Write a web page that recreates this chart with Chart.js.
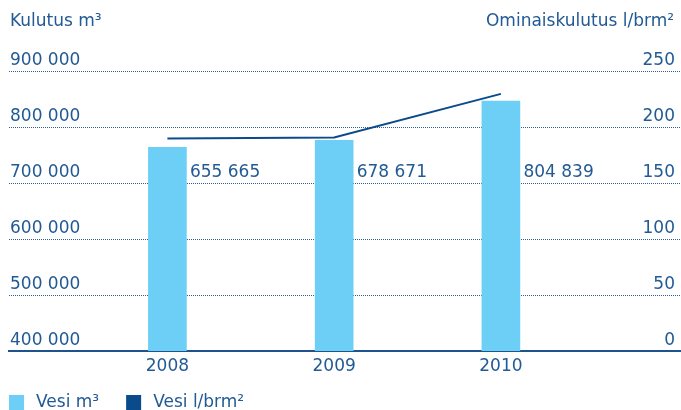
<!DOCTYPE html>
<html>
<head>
<meta charset="utf-8">
<script src="https://cdn.jsdelivr.net/npm/chart.js@4"></script>
<style>
  html, body { margin: 0; padding: 0; background: #fff; }
  #wrap { width: 681px; height: 410px; }
</style>
</head>
<body>
<div id="wrap"><canvas id="waterChart"></canvas></div>
<script>
// years on the x axis
const categories = ["2008", "2009", "2010"];
// water use in m3 (bars)
const volumeValues = [655665, 678671, 804839];
const volumeLabels = ["655 665", "678 671", "804 839"];
// specific use in l/brm2 (line)
const specificValues = [190, 191, 230];
// left axis labels, bottom to top
const leftTicks = ["400 000", "500 000", "600 000", "700 000", "800 000", "900 000"];
const seriesNames = ["Vesi m³", "Vesi l/brm²"];
const axisTitles = ["Kulutus m³", "Ominaiskulutus l/brm²"];

const textColor = "#225a95";
const barColor = "#6dcff6";
const lineColor = "#0b4a8b";
const FONT = "'DejaVu Sans', sans-serif";

Chart.defaults.font.family = FONT;
Chart.defaults.font.size = 17;
Chart.defaults.color = textColor;

// titles, value labels and legend
const extras = {
    id: "extras",
    afterDraw(chart) {
        const ctx = chart.ctx;
        const area = chart.chartArea;
        const y = chart.scales.y;
        ctx.save();
        ctx.font = "17px " + FONT;
        ctx.fillStyle = textColor;
        ctx.textBaseline = "middle";

        // axis titles
        ctx.textAlign = "left";
        ctx.fillText(axisTitles[0], area.left + 1, 22);
        ctx.textAlign = "right";
        ctx.fillText(axisTitles[1], area.right - 7, 22);

        // value labels, on the row of the 700 000 label
        ctx.textAlign = "left";
        const rowY = y.getPixelForTick(3) - 10.5;
        chart.getDatasetMeta(1).data.forEach((bar, i) => {
            ctx.fillText(volumeLabels[i], bar.x + bar.width / 2 + 3.5, rowY);
        });

        // legend
        const colors = [barColor, lineColor];
        let x = area.left;
        const ly = 403;
        seriesNames.forEach((name, i) => {
            ctx.fillStyle = colors[i];
            ctx.fillRect(x, ly - 8, 15, 16);
            ctx.fillStyle = textColor;
            ctx.fillText(name, x + 27, ly);
            x += 27 + ctx.measureText(name).width + 27;
        });
        ctx.restore();
    }
};

new Chart(document.getElementById("waterChart"), {
    type: "bar",
    data: {
        datasets: [{
            type: "line",
            label: seriesNames[1],
            data: categories.map((c, i) => ({ x: i, y: specificValues[i] })),
            yAxisID: "y1",
            borderColor: lineColor,
            backgroundColor: lineColor,
            borderWidth: 2,
            pointRadius: 0,
            tension: 0,
            order: 0
        }, {
            label: seriesNames[0],
            data: categories.map((c, i) => ({ x: i, y: volumeValues[i] })),
            yAxisID: "y",
            backgroundColor: barColor,
            barThickness: 38,
            order: 1
        }]
    },
    options: {
        responsive: true,
        maintainAspectRatio: false,
        animation: false,
        layout: { padding: { left: 7, right: 0, top: 71.5, bottom: 28.5 } },
        plugins: {
            legend: { display: false },
            tooltip: { enabled: false }
        },
        scales: {
            x: {
                type: "linear",
                offset: false,
                min: -0.95,
                max: 3.08,
                grid: { display: false, drawTicks: false },
                border: { display: true, color: "#1d548f", width: 2 },
                afterBuildTicks: (scale) => {
                    scale.ticks = categories.map((c, i) => ({ value: i }));
                },
                ticks: {
                    padding: 5,
                    callback: (v) => categories[v]
                }
            },
            y: {
                position: "left",
                min: 0,
                max: 900000,
                grid: { color: "#2b5f96", lineWidth: 1, drawTicks: false },
                border: { display: false, dash: [1, 1] },
                afterBuildTicks: (scale) => {
                    scale.ticks = leftTicks.map((t, i) => ({ value: i * 180000 }));
                },
                ticks: {
                    mirror: true,
                    padding: 1,
                    labelOffset: -10.5,
                    callback: (v, i) => leftTicks[i]
                }
            },
            y1: {
                position: "right",
                min: 0,
                max: 250,
                grid: { display: false, drawTicks: false },
                border: { display: false },
                ticks: {
                    mirror: true,
                    padding: -6,
                    stepSize: 50,
                    labelOffset: -10.5
                }
            }
        }
    },
    plugins: [extras]
});
</script>
</body>
</html>
